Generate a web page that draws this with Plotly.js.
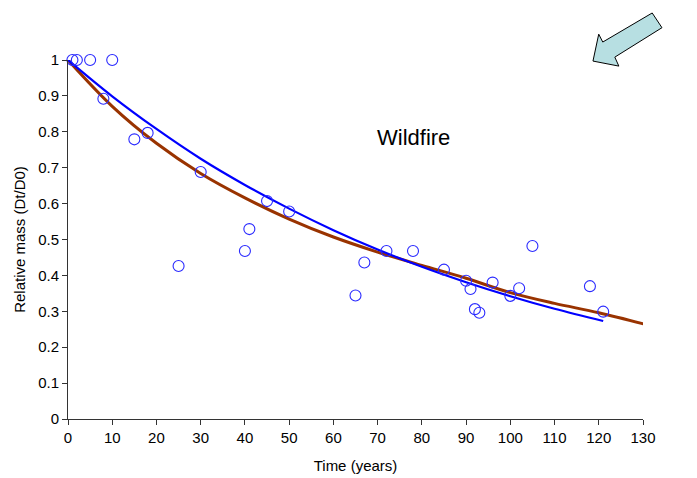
<!DOCTYPE html>
<html>
<head>
<meta charset="utf-8">
<script src="https://cdn.plot.ly/plotly-3.0.1.min.js"></script>
<style>
  html, body { margin: 0; padding: 0; background: #fff; }
  #chart { width: 697px; height: 478px; }
</style>
</head>
<body>
<div id="chart"></div>
<script>
// Observed relative mass of wildfire-killed wood over time
const obsYears = [1, 2, 5, 10, 8, 15, 18, 25, 30, 40, 41, 45, 50, 65, 67, 72, 78, 85,
                  90, 91, 92, 93, 96, 100, 102, 105, 118, 121];
const obsMass  = [1, 1, 1, 1, 0.892, 0.779, 0.797, 0.426, 0.688, 0.468, 0.529, 0.607, 0.578,
                  0.344, 0.436, 0.468, 0.468, 0.416, 0.385, 0.362, 0.306, 0.296, 0.380,
                  0.343, 0.364, 0.482, 0.370, 0.299];

// Fitted decay curve (blue)
const fitAYears = [0, 10, 20, 30, 40, 50, 60, 70, 80, 90, 100, 110, 121];
const fitAMass  = [1.0, 0.899, 0.808, 0.725, 0.652, 0.586, 0.526, 0.472, 0.424, 0.381,
                   0.342, 0.307, 0.273];

// Fitted decay curve (brown)
const fitBYears = [0, 10, 20, 30, 40, 50, 60, 70, 80, 90, 100, 110, 120, 131];
const fitBMass  = [1.0, 0.871, 0.768, 0.684, 0.616, 0.557, 0.507, 0.465, 0.428, 0.392,
                   0.352, 0.322, 0.296, 0.262];

const xTicks = [0, 10, 20, 30, 40, 50, 60, 70, 80, 90, 100, 110, 120, 130];
const yTicks = [0, 0.1, 0.2, 0.3, 0.4, 0.5, 0.6, 0.7, 0.8, 0.9, 1];

const font = 'Liberation Sans, Arial, sans-serif';

const traces = [
  {
    x: fitBYears, y: fitBMass, type: 'scatter', mode: 'lines',
    line: { color: '#993300', width: 3, shape: 'spline', smoothing: 1 },
    hoverinfo: 'skip'
  },
  {
    x: fitAYears, y: fitAMass, type: 'scatter', mode: 'lines',
    line: { color: '#0000ff', width: 2.2, shape: 'spline', smoothing: 1 },
    hoverinfo: 'skip'
  },
  {
    x: obsYears, y: obsMass, type: 'scatter', mode: 'markers',
    marker: { symbol: 'circle-open', size: 11, color: '#2a2aff', line: { width: 1.1 } },
    cliponaxis: false
  }
];

// Arrow outline (paper coordinates) pointing down-left in the upper-right corner
const arrowPts = [
  [0.913, 0.997], [0.923, 1.072], [0.930, 1.050], [1.016, 1.131],
  [1.033, 1.090], [0.951, 1.008], [0.958, 0.983]
];
const arrowPath = 'M ' + arrowPts.map(p => p[0] + ',' + p[1]).join(' L ') + ' Z';

const layout = {
  width: 697, height: 478,
  margin: { l: 68, r: 54, t: 60, b: 59 },
  paper_bgcolor: '#ffffff', plot_bgcolor: '#ffffff',
  showlegend: false,
  font: { family: font, color: '#000', size: 15 },
  xaxis: {
    range: [0, 130], tickvals: xTicks, ticktext: xTicks.map(String),
    showgrid: false, zeroline: false,
    showline: true, linecolor: '#333', linewidth: 1,
    ticks: 'outside', ticklen: 5, tickcolor: '#333',
    tickfont: { family: font, size: 15, color: '#000' },
    title: { text: 'Time (years)', font: { family: font, size: 15, color: '#000' }, standoff: 15 }
  },
  yaxis: {
    range: [0, 1], tickvals: yTicks, ticktext: yTicks.map(String),
    showgrid: false, zeroline: false,
    showline: true, linecolor: '#333', linewidth: 1,
    ticks: 'outside', ticklen: 5, tickcolor: '#333',
    tickfont: { family: font, size: 15, color: '#000' },
    title: { text: 'Relative mass (Dt/D0)', font: { family: font, size: 15, color: '#000' }, standoff: 8 }
  },
  annotations: [
    {
      text: 'Wildfire', xref: 'x', yref: 'y', x: 78, y: 0.785,
      showarrow: false, font: { family: font, size: 22, color: '#000' }
    }
  ],
  shapes: [
    {
      type: 'path', xref: 'paper', yref: 'paper', path: arrowPath,
      fillcolor: '#b7dfe2', line: { color: '#000', width: 1 }
    }
  ]
};

Plotly.newPlot('chart', traces, layout, { staticPlot: true, displayModeBar: false });
</script>
</body>
</html>
